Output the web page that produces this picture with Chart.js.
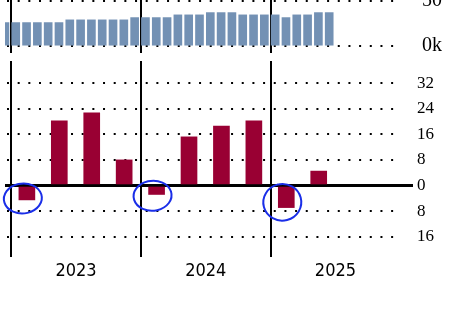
<!DOCTYPE html>
<html>
<head>
<meta charset="utf-8">
<script src="https://cdn.jsdelivr.net/npm/chart.js@4.4.1/dist/chart.umd.min.js"></script>
<style>
  html, body { margin: 0; padding: 0; background: #fff; }
  #wrap { position: relative; width: 473px; height: 319px; overflow: hidden; }
  #wrap canvas { position: absolute; left: 0; }
  .fontwarm { position: absolute; left: -999px; top: 0; font-size: 18px; }
</style>
</head>
<body>
<span class="fontwarm" style="font-family:'Liberation Serif'">0123456789k</span>
<span class="fontwarm" style="font-family:'DejaVu Sans Condensed'">0123456789</span>
<div id="wrap">
  <canvas id="topChart" width="473" height="109" style="top:-40px"></canvas>
  <canvas id="bottomChart" width="473" height="273" style="top:46px"></canvas>
</div>
<script>
// values
var years = ['2023', '2024', '2025']
var months = ['2022-12',
  '2023-01','2023-02','2023-03','2023-04','2023-05','2023-06','2023-07','2023-08','2023-09','2023-10','2023-11','2023-12',
  '2024-01','2024-02','2024-03','2024-04','2024-05','2024-06','2024-07','2024-08','2024-09','2024-10','2024-11','2024-12',
  '2025-01','2025-02','2025-03','2025-04','2025-05','2025-06']
// monthly level, thousands
var monthlyLevel = [26,
  26, 26, 26, 26, 26, 29, 29, 29, 29, 29, 29, 31.5,
  31.5, 31.5, 31.5, 34.5, 34.5, 34.5, 37, 37, 37, 34.5, 34.5, 34.5,
  34.5, 31.5, 34.5, 34.5, 37, 37]
var quarters = ['2023-Q1','2023-Q2','2023-Q3','2023-Q4',
  '2024-Q1','2024-Q2','2024-Q3','2024-Q4',
  '2025-Q1','2025-Q2']
var quarterlyChange = [-4.5, 20.2, 22.7, 8.0, -2.8, 15.2, 18.6, 20.2, -6.9, 4.5]
var topTicks = [0, 50]
var bottomTicks = [-16, -8, 0, 8, 16, 24, 32]

var firstYear = +years[0]
function monthX(label) {
  var p = label.split('-').map(Number)
  return (p[0] - firstYear) * 12 + (p[1] - 1)
}
function quarterX(label) {
  var p = label.split('-Q').map(Number)
  return (p[0] - firstYear) * 12 + (p[1] - 1) * 3
}
var yearStarts = years.map(function(y){ return (+y - firstYear) * 12 })
var xTicks = []
yearStarts.forEach(function(s){ xTicks.push(s, s + 6) })

var serif = "'Liberation Serif', 'Times New Roman', serif"
var narrow = "'DejaVu Sans Condensed', 'DejaVu Sans', sans-serif"

Chart.defaults.animation = false
Chart.defaults.font.family = serif
Chart.defaults.color = '#000'

var dots = [2, 8.67]
function yearGrid(c) { return c.tick && c.tick.value % 12 === 0 ? '#000' : 'rgba(0,0,0,0)' }

var xCommon = {
  type: 'linear', min: -0.574, max: 35.6, offset: false, bounds: 'data',
  afterBuildTicks: function(s){ s.ticks = xTicks.map(function(v){ return {value: v} }) },
  grid: { color: yearGrid, lineWidth: 2, drawTicks: false, offset: false },
  border: { display: false }
}

// top panel: monthly bars
var topChart = new Chart(document.getElementById('topChart'), {
  type: 'bar',
  data: {
    datasets: [{
      data: months.map(function(m, i){ return {x: monthX(m) + 0.42, y: monthlyLevel[i]} }),
      backgroundColor: '#7391b4',
      barThickness: 8
    }]
  },
  options: {
    responsive: false,
    layout: { padding: { left: 5, right: 0, top: 16, bottom: 16 } },
    plugins: { legend: { display: false }, tooltip: { enabled: false } },
    scales: {
      x: Object.assign({}, xCommon, { ticks: { display: false } }),
      y: {
        position: 'right', min: -7.49, max: 77.3, bounds: 'data',
        afterBuildTicks: function(s){ s.ticks = topTicks.map(function(v){ return {value: v} }) },
        afterFit: function(s){ s.width = 77 },
        grid: { color: '#000', lineWidth: 2, tickLength: 22, tickColor: 'rgba(0,0,0,0)' },
        border: { display: false, dash: dots, dashOffset: -2 },
        ticks: {
          padding: 4, font: { family: serif, size: 20 },
          callback: function(v){ return v === 0 ? '0k' : String(v) }
        }
      }
    }
  }
})

// blue pen circles round the negative quarters
var penCircles = {
  id: 'penCircles',
  afterDatasetsDraw: function(chart) {
    var ctx = chart.ctx
    ctx.save()
    ctx.strokeStyle = '#1a2ee8'
    ctx.lineWidth = 2
    ctx.lineCap = 'round'
    chart.getDatasetMeta(0).data.forEach(function(bar, i) {
      if (quarterlyChange[i] >= 0) return
      var ry = Math.max(15, (bar.y - bar.base) / 2 + 8)
      ctx.beginPath()
      ctx.ellipse(bar.x - 4, (bar.y + bar.base) / 2 + 5, 19, ry, -0.08, -1.75, -1.75 + 2 * Math.PI + 0.5)
      ctx.stroke()
    })
    ctx.restore()
  }
}

// bottom panel: quarterly change
var bottomChart = new Chart(document.getElementById('bottomChart'), {
  type: 'bar',
  data: {
    datasets: [{
      data: quarters.map(function(q, i){ return {x: quarterX(q) + 1.45, y: quarterlyChange[i]} }),
      backgroundColor: '#990033',
      barThickness: 16
    }]
  },
  options: {
    responsive: false,
    layout: { padding: { left: 5, right: 0, top: 15, bottom: 0 } },
    plugins: { legend: { display: false }, tooltip: { enabled: false } },
    scales: {
      x: Object.assign({}, xCommon, {
        afterFit: function(s){ s.height = 62 },
        ticks: {
          padding: 4, maxRotation: 0, autoSkip: false,
          font: { family: narrow, size: 18, weight: 'condensed' },
          callback: function(v){ return v % 12 === 6 ? years[(v - 6) / 12] : '' }
        }
      }),
      y: {
        position: 'right', min: -22.34, max: 38.9, bounds: 'data',
        afterBuildTicks: function(s){ s.ticks = bottomTicks.map(function(v){ return {value: v} }) },
        afterFit: function(s){ s.width = 77 },
        grid: {
          color: '#000',
          lineWidth: function(c){ return c.tick && c.tick.value === 0 ? 3 : 2 },
          tickLength: 17,
          tickWidth: 3,
          tickColor: function(c){ return c.tick && c.tick.value === 0 ? '#000' : 'rgba(0,0,0,0)' }
        },
        border: {
          display: false, dashOffset: -2,
          dash: function(c){ return c.tick && c.tick.value === 0 ? [] : dots }
        },
        ticks: {
          padding: 4, font: { family: serif, size: 17 },
          callback: function(v){ return String(Math.abs(v)) }
        }
      }
    }
  },
  plugins: [penCircles]
})

// redraw once the fonts are ready
if (document.fonts) {
  Promise.all([
    document.fonts.load("20px 'Liberation Serif'"),
    document.fonts.load("18px 'DejaVu Sans Condensed'")
  ]).then(function(){
    topChart.update('none')
    bottomChart.update('none')
  }, function(){})
}
</script>
</body>
</html>
